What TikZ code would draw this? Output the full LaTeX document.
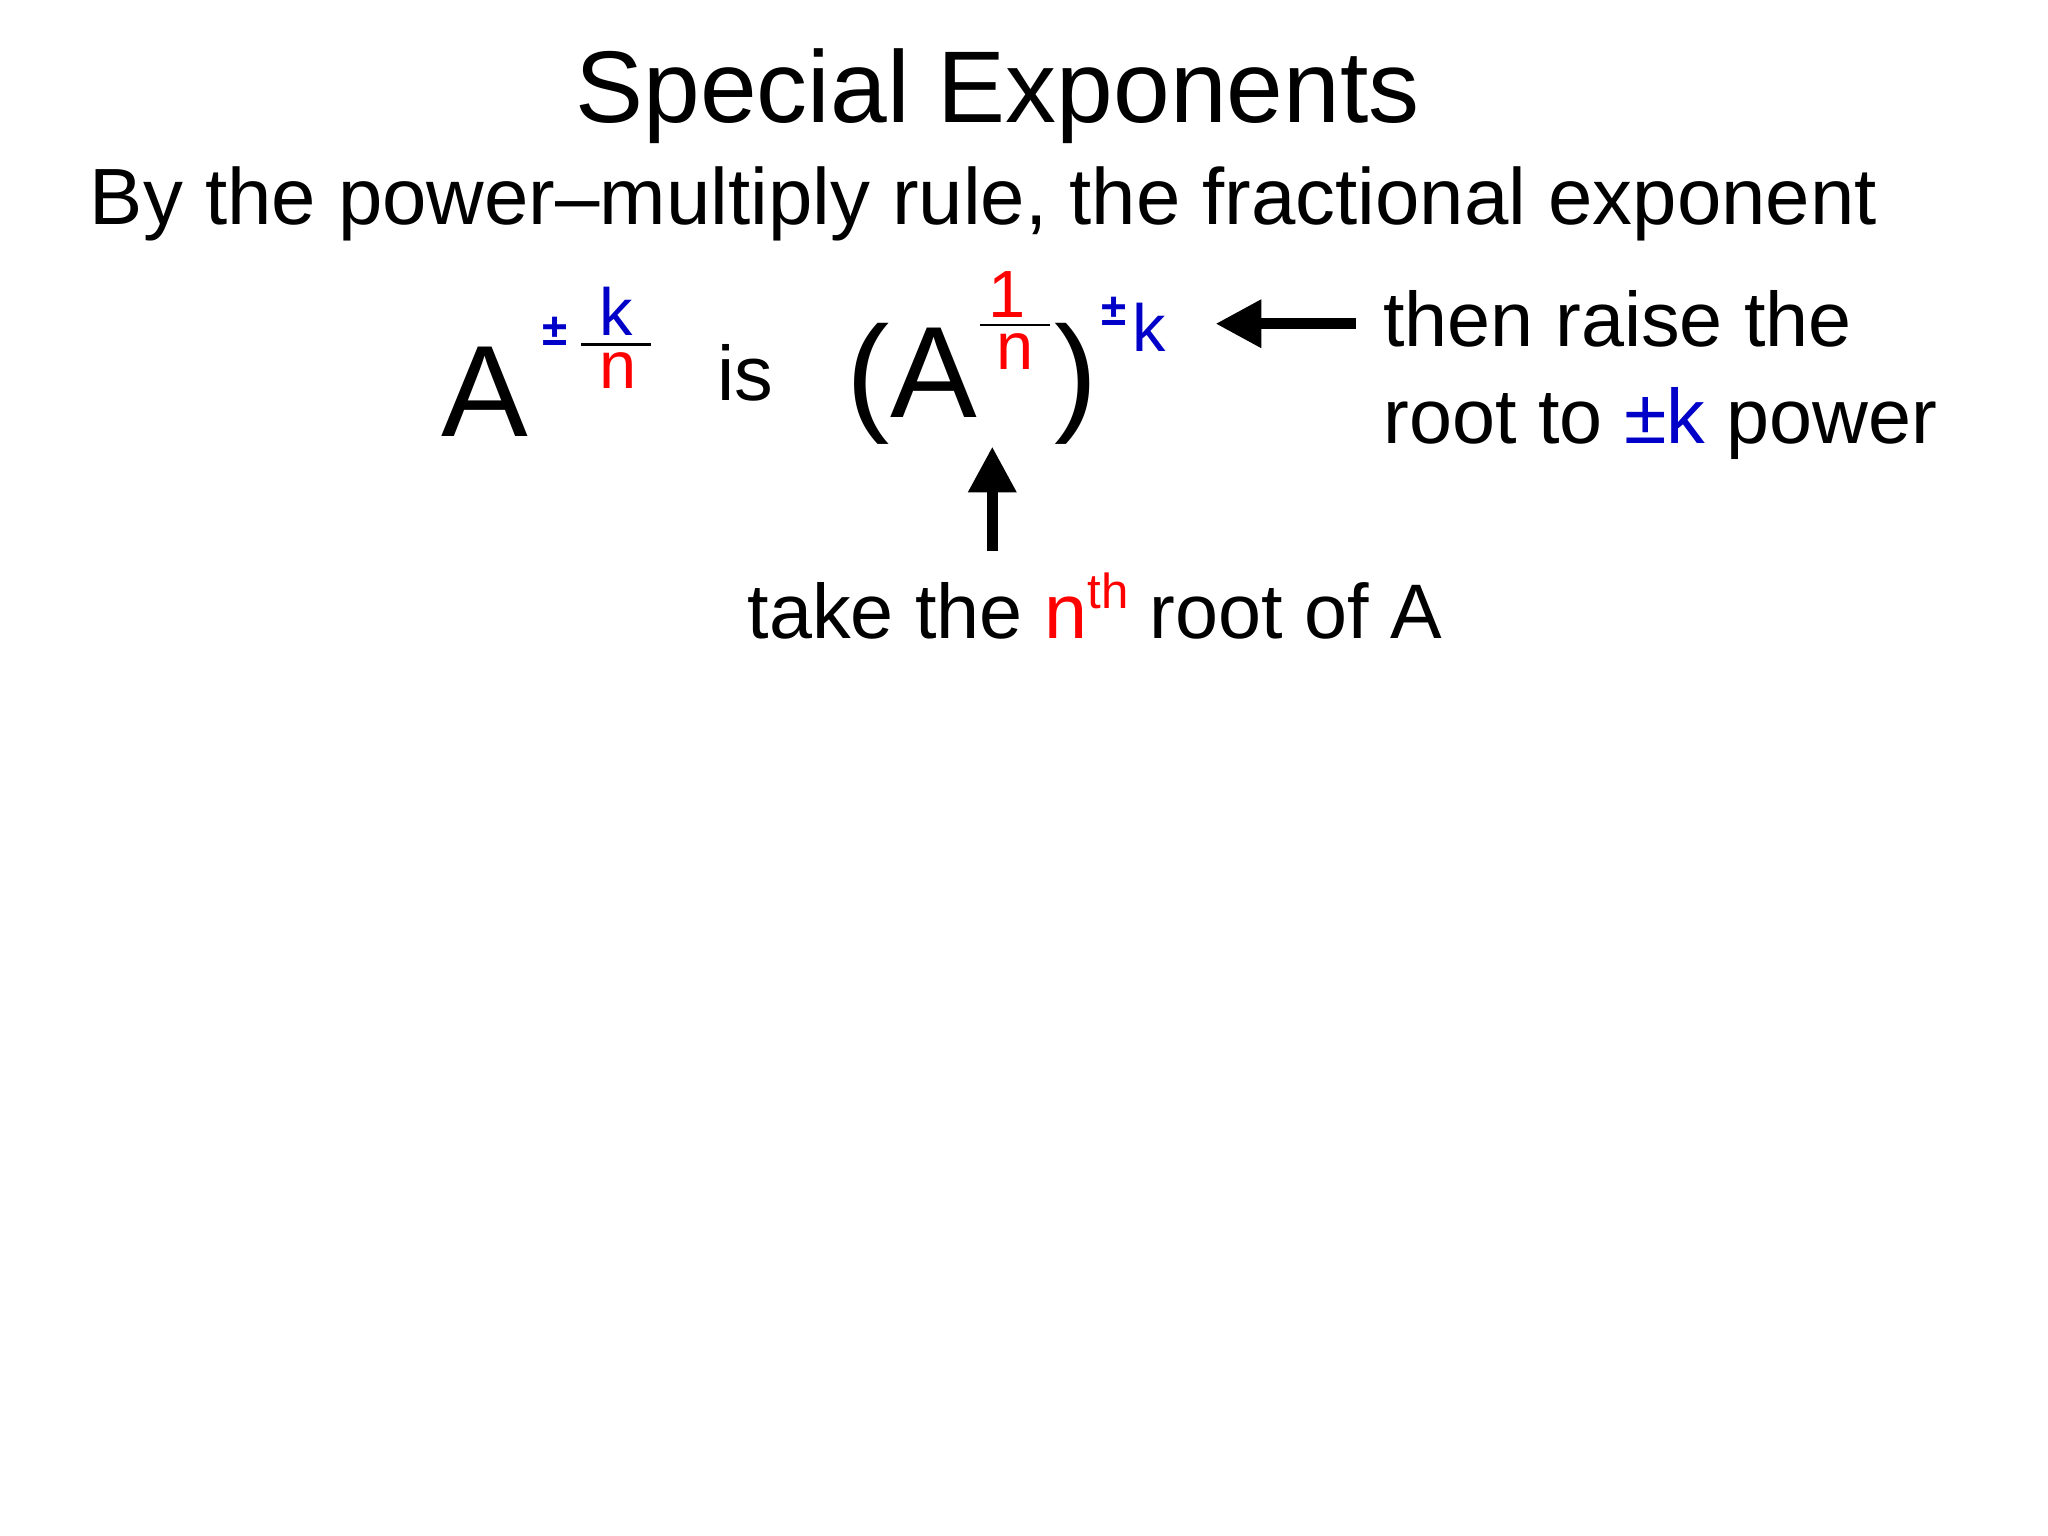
\documentclass[tikz,border=0pt]{standalone}
\usepackage{fontspec}
\setmainfont{Liberation Sans}
\usetikzlibrary{arrows.meta}
\definecolor{myblue}{RGB}{0,0,200}
\definecolor{myred}{RGB}{255,0,0}
\newcommand{\fs}[1]{\fontsize{#1}{#1}\selectfont}
\tikzset{t/.style={inner sep=0pt,outer sep=0pt},
  arr/.style={line width=3pt,-{Triangle[length=13pt,width=13pt]}}}
\begin{document}
\begin{tikzpicture}[x=0.01321cm,y=-0.01321cm]
\useasboundingbox (0,0) rectangle (1550,1162.5);
\fill[white] (0,0) rectangle (1550,1162.5);
\node[t,anchor=base] (title) at (755,93) {\fs{29}Special Exponents};
\node[t,anchor=base west] (sub) at (68,170) {\fs{22.7}By the power--multiply rule, the fractional exponent};
\node[t,anchor=base west] (A1) at (334,330) {\fs{37}A};
\node[t,text=myblue] (pm1) at (420,251) {\fs{13}\textbf{±}};
\draw[line width=0.8pt] (440,261) -- (493,261);
\node[t,anchor=base,text=myblue] (k1) at (466,254) {\fs{19}k};
\node[t,anchor=base,text=myred] (n1) at (468,294) {\fs{19}n};
\node[t,anchor=base west] (is) at (543,303) {\fs{22}is};
\node[t,anchor=base west] (A2) at (641,316) {\fs{37}(A};
\draw[line width=0.8pt] (742,246) -- (795,246);
\node[t,anchor=base,text=myred] (one) at (762,240) {\fs{19}1};
\node[t,anchor=base,text=myred] (n2) at (768,280) {\fs{19}n};
\node[t,anchor=base west] (rp) at (798,316) {\fs{37})};
\node[t,text=myblue] (pm2) at (843,236) {\fs{13}\textbf{±}};
\node[t,anchor=base west,text=myblue] (k2) at (857,266) {\fs{19}k};
\coordinate (la) at (1026,245);
\coordinate (lb) at (920,245);
\draw[arr] (la) -- (lb);
\node[t,anchor=base west] (r1) at (1047,262) {\fs{22}then raise the};
\node[t,anchor=base west] (r2) at (1047,336) {\fs{22}root to \textcolor{myblue}{±k} power};
\coordinate (ua) at (751,417);
\coordinate (ub) at (751,338);
\draw[arr] (ua) -- (ub);
\node[t,anchor=base west] (bot) at (566,483) {\fs{22}take the \textcolor{myred}{n\raisebox{0.38em}{\fs{14}th}} root of A};
\end{tikzpicture}
\end{document}
